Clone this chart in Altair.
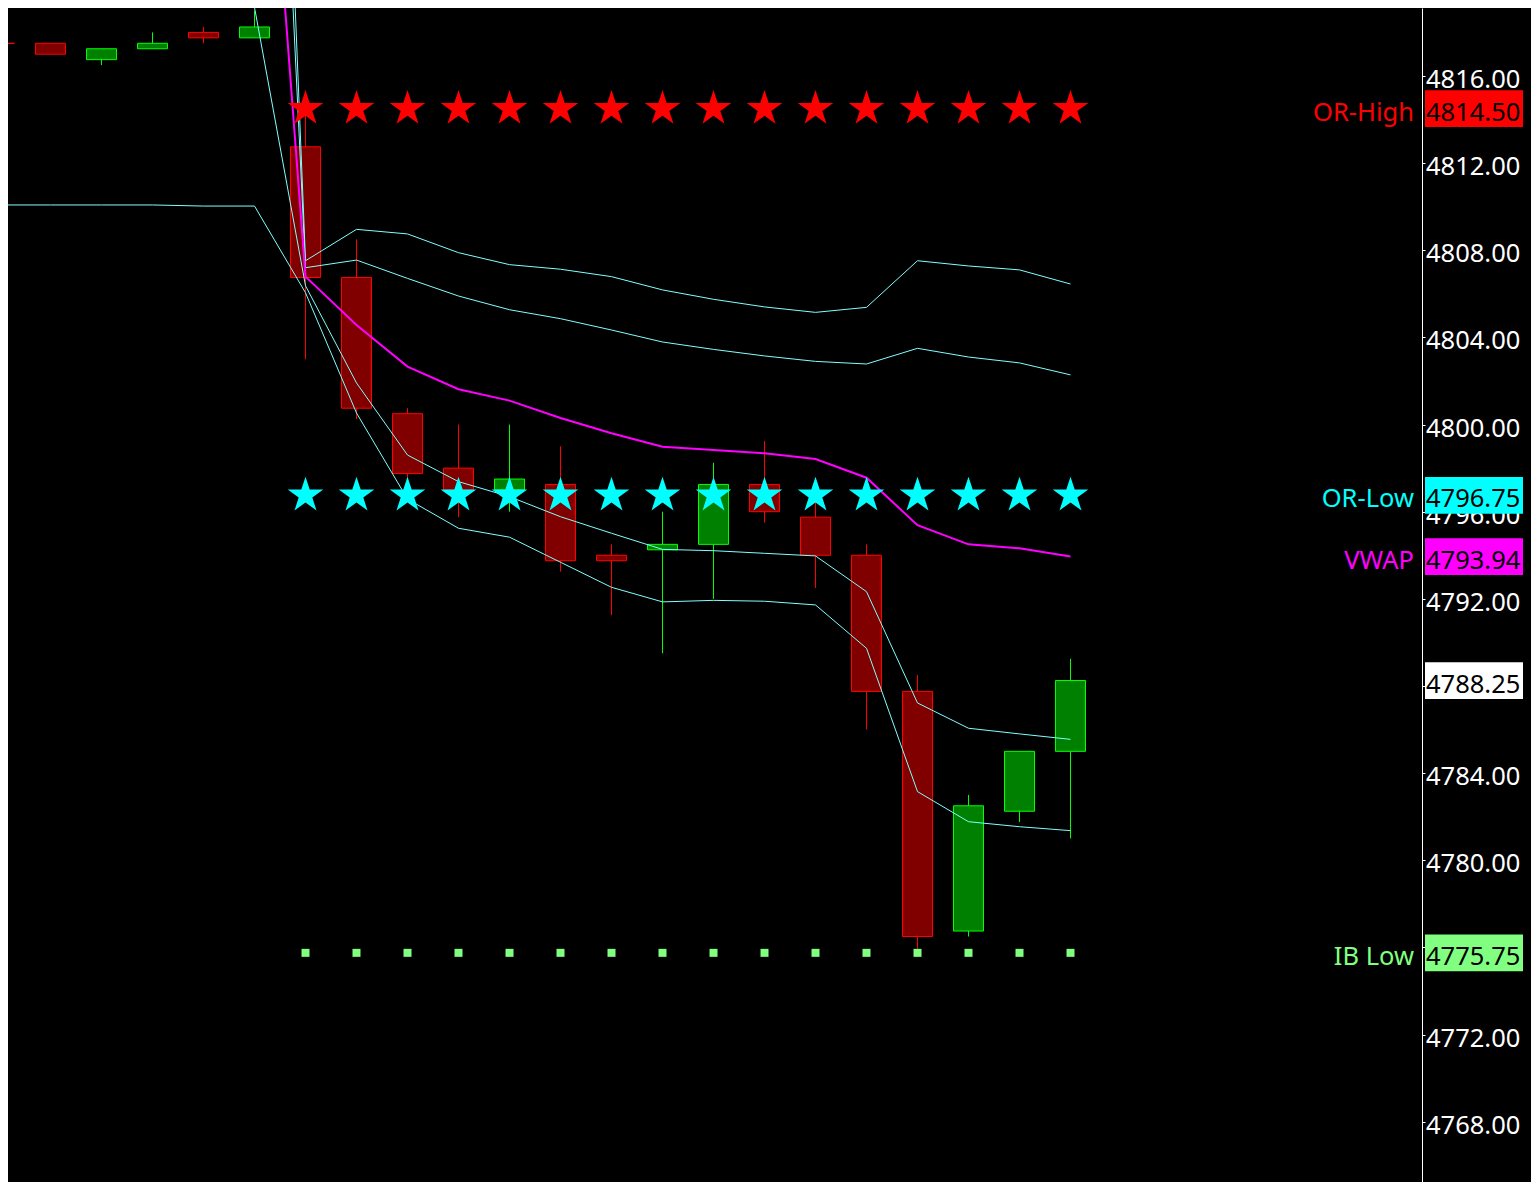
import altair as alt
import pandas as pd

# ---------------- data ----------------
bar_index = list(range(22))
opens = [4817.50, 4817.50, 4816.75, 4817.25, 4818.00, 4817.75, 4812.75, 4806.75, 4800.50, 4798.00, 4797.00,
         4797.25, 4794.00, 4794.25, 4794.50, 4797.25, 4795.75, 4794.00, 4787.75, 4776.75, 4782.25, 4785.00]
highs = [4817.50, 4817.50, 4817.25, 4818.00, 4818.25, 4819.00, 4814.50, 4808.50, 4800.75, 4800.00, 4800.00,
         4799.00, 4794.50, 4796.00, 4798.25, 4799.25, 4797.00, 4794.50, 4788.50, 4783.00, 4785.00, 4789.25]
lows = [4817.50, 4817.00, 4816.50, 4817.25, 4817.50, 4817.75, 4803.00, 4800.25, 4796.75, 4795.75, 4796.00,
        4793.25, 4791.25, 4789.50, 4792.00, 4795.50, 4792.50, 4786.00, 4775.75, 4776.50, 4781.75, 4781.00]
closes = [4817.50, 4817.00, 4817.25, 4817.50, 4817.75, 4818.25, 4806.75, 4800.75, 4797.75, 4797.00, 4797.50,
          4793.75, 4793.75, 4794.50, 4797.25, 4796.00, 4794.00, 4787.75, 4776.50, 4782.50, 4785.00, 4788.25]

vwap = [4837.60, 4837.60, 4837.60, 4837.60, 4837.60, 4837.60, 4806.79, 4804.57, 4802.66, 4801.62, 4801.10,
        4800.30, 4799.60, 4798.98, 4798.83, 4798.68, 4798.42, 4797.56, 4795.38, 4794.50, 4794.32, 4793.94]
upper2 = [4865.00, 4865.00, 4865.00, 4865.00, 4865.00, 4865.00, 4807.52, 4808.96, 4808.75, 4807.89, 4807.34,
          4807.13, 4806.79, 4806.18, 4805.75, 4805.40, 4805.15, 4805.38, 4807.52, 4807.28, 4807.10, 4806.45]
upper1 = [4856.00, 4856.00, 4856.00, 4856.00, 4856.00, 4856.00, 4807.20, 4807.55, 4806.71, 4805.90, 4805.27,
          4804.86, 4804.34, 4803.79, 4803.45, 4803.15, 4802.90, 4802.78, 4803.50, 4803.10, 4802.83, 4802.28]
lower1 = [4819.20, 4819.20, 4819.20, 4819.20, 4819.20, 4819.15, 4806.37, 4801.91, 4798.60, 4797.38, 4796.69,
          4795.77, 4795.01, 4794.27, 4794.21, 4794.09, 4793.97, 4792.33, 4787.22, 4786.06, 4785.80, 4785.55]
lower2 = [4810.08, 4810.08, 4810.08, 4810.08, 4810.03, 4810.03, 4806.05, 4800.53, 4796.58, 4795.24, 4794.83,
          4793.68, 4792.53, 4791.86, 4791.93, 4791.89, 4791.72, 4789.73, 4783.15, 4781.77, 4781.54, 4781.36]

session_index = [6, 7, 8, 9, 10, 11, 12, 13, 14, 15, 16, 17, 18, 19, 20, 21]
or_high = 4814.50
or_low = 4796.75
ib_low = 4775.75

level_names = ["OR-High", "OR-Low", "VWAP", "Last", "IB Low"]
level_values = [4814.50, 4796.75, 4793.94, 4788.25, 4775.75]
level_tags = ["OR-High", "OR-Low", "VWAP", "", "IB Low"]

tick_values = [4768, 4772, 4776, 4780, 4784, 4788, 4792, 4796, 4800, 4804, 4808, 4812, 4816]
# labels that are visible in the reference (4776 and 4788 sit fully under the level boxes)
tick_label_values = [4768, 4772, 4780, 4784, 4792, 4796, 4800, 4804, 4808, 4812, 4816]

# ---------------- styles ----------------
level_colors = ["#FF0000", "#00FFFF", "#FF00FF", "#FFFFFF", "#80FF80"]
FONT = "Noto Sans"
FS = 25.5
DY = 4
W, H = 1414, 1174
STAR = ("M0,-1 L0.2245,-0.309 L0.9511,-0.309 L0.3633,0.118 L0.5878,0.809 L0,0.382 "
        "L-0.5878,0.809 L-0.3633,0.118 L-0.9511,-0.309 L-0.2245,-0.309 Z")
BOX = "M-1,-0.375 L1,-0.375 L1,0.375 L-1,0.375 Z"

candles = pd.DataFrame({"i": bar_index, "o": opens, "h": highs, "l": lows, "c": closes})
candles["dir"] = ["up" if c > o else "down" for o, c in zip(opens, closes)]

bands = pd.concat([
    pd.DataFrame({"i": bar_index, "v": s, "band": name})
    for name, s in [("u2", upper2), ("u1", upper1), ("l1", lower1), ("l2", lower2)]
])
vwap_df = pd.DataFrame({"i": bar_index, "v": vwap})
stars = pd.concat([
    pd.DataFrame({"i": session_index, "v": [or_high] * len(session_index), "name": "OR-High"}),
    pd.DataFrame({"i": session_index, "v": [or_low] * len(session_index), "name": "OR-Low"}),
])
ib_df = pd.DataFrame({"i": session_index, "v": [ib_low] * len(session_index)})
levels = pd.DataFrame({"name": level_names, "v": level_values, "tag": level_tags})
ticks_df = pd.DataFrame({"v": tick_label_values})

xscale = alt.Scale(domain=[0.16667, 27.892], nice=False, zero=False, padding=0)
yscale = alt.Scale(domain=[4765.231, 4819.121], nice=False, zero=False, padding=0)
color_scale = alt.Scale(domain=level_names, range=level_colors)
dir_stroke = alt.Scale(domain=["up", "down"], range=["#00FF00", "#FF0000"])
dir_fill = alt.Scale(domain=["up", "down"], range=["#008000", "#800000"])

X = alt.X("i:Q", scale=xscale, axis=None)

yaxis = alt.Axis(values=tick_values, orient="right", title=None, grid=False, labels=False,
                 domain=True, domainColor="white", domainWidth=1, domainOpacity=1,
                 ticks=True, tickColor="white", tickSize=3, tickWidth=1, tickOpacity=1)


def Y(field):
    return alt.Y(field, scale=yscale, axis=yaxis)


wicks = alt.Chart(candles).mark_rule(strokeWidth=1, clip=True).encode(
    x=X, y=Y("l:Q"), y2="h:Q",
    stroke=alt.Stroke("dir:N", scale=dir_stroke, legend=None),
)
bodies = alt.Chart(candles).mark_bar(size=30, strokeWidth=1, clip=True, orient="vertical").encode(
    x=X, y=Y("o:Q"), y2="c:Q",
    fill=alt.Fill("dir:N", scale=dir_fill, legend=None),
    stroke=alt.Stroke("dir:N", scale=dir_stroke, legend=None),
)
band_lines = alt.Chart(bands).mark_line(strokeWidth=1, color="#80FFFF", clip=True).encode(
    x=X, y=Y("v:Q"), detail="band:N"
)
vwap_line = alt.Chart(vwap_df).mark_line(strokeWidth=2, color="#FF00FF", clip=True).encode(
    x=X, y=Y("v:Q")
)
star_marks = alt.Chart(stars).mark_point(shape=STAR, size=1400, filled=True, opacity=1, strokeWidth=0).encode(
    x=X, y=Y("v:Q"),
    color=alt.Color("name:N", scale=color_scale, legend=None),
)
ib_dots = alt.Chart(ib_df).mark_point(shape="square", size=64, filled=True, opacity=1, strokeWidth=0,
                                      color="#80FF80").encode(
    x=X, y=Y("v:Q")
)
tick_labels = alt.Chart(ticks_df).mark_text(align="left", baseline="middle", font=FONT, fontSize=FS,
                                             dy=DY, color="white").encode(
    x=alt.value(W + 4), y=Y("v:Q"), text=alt.Text("v:Q", format=".2f"),
)
boxes = alt.Chart(levels).mark_point(shape=BOX, size=9604, filled=True, opacity=1, strokeWidth=0).encode(
    x=alt.value(W + 52), y=Y("v:Q"),
    color=alt.Color("name:N", scale=color_scale, legend=None),
)
box_text = alt.Chart(levels).mark_text(align="left", baseline="middle", font=FONT, fontSize=FS,
                                        dy=DY, color="black").encode(
    x=alt.value(W + 4), y=Y("v:Q"), text=alt.Text("v:Q", format=".2f"),
)
tag_text = alt.Chart(levels).mark_text(align="right", baseline="middle", font=FONT, fontSize=FS,
                                        dy=DY).encode(
    x=alt.value(W - 8), y=Y("v:Q"), text="tag:N",
    color=alt.Color("name:N", scale=color_scale, legend=None),
)

chart = alt.layer(
    wicks, bodies, band_lines, vwap_line, star_marks, ib_dots, tick_labels, boxes, box_text, tag_text
).properties(
    width=W, height=H,
    autosize=alt.AutoSizeParams(type="none"),
    padding={"left": 0, "top": 0, "right": 109, "bottom": 0},
    background="black",
).configure_view(stroke="transparent")

chart.save("out.html", embed_options={"renderer": "svg", "actions": False})
